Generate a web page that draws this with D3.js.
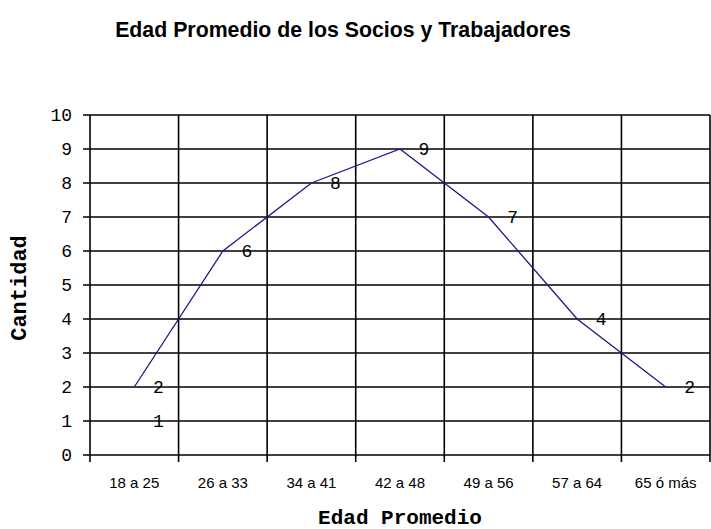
<!DOCTYPE html>
<html lang="es">
<head>
<meta charset="UTF-8">
<title>Edad Promedio</title>
<script src="https://cdn.jsdelivr.net/npm/d3@7"></script>
<style>
  body { margin: 0; background: #fff; }
</style>
</head>
<body>
<svg width="711" height="529"></svg>
<script>
// datos
var categorias = ['18 a 25', '26 a 33', '34 a 41', '42 a 48', '49 a 56', '57 a 64', '65 ó más'];
var cantidad = [2, 6, 8, 9, 7, 4, 2];
var serie2 = [1, null, null, null, null, null, null];   // solo etiqueta en la primera categoria
var yTicks = [0, 1, 2, 3, 4, 5, 6, 7, 8, 9, 10];

var svg = d3.select('svg');
// ojo: "top" ya existe en window, usar otros nombres
var mIzq = 90, mDer = 710, mSup = 115, mInf = 455;

var x = d3.scaleBand().domain(categorias).range([mIzq, mDer]);
var y = d3.scaleLinear().domain([0, 10]).range([mInf, mSup]);

var g = svg.append('g');

// lineas horizontales
g.selectAll('.hl').data(yTicks).enter().append('line')
  .attr('x1', mIzq - 7).attr('x2', mDer)
  .attr('y1', function(d){ return y(d); })
  .attr('y2', function(d){ return y(d); })
  .attr('stroke', '#000').attr('stroke-width', 1.6);

// lineas verticales (bordes de categoria)
var bordes = categorias.map(function(c){ return x(c); }).concat([mDer]);
g.selectAll('.vl').data(bordes).enter().append('line')
  .attr('x1', function(d){ return d; }).attr('x2', function(d){ return d; })
  .attr('y1', mSup).attr('y2', mInf + 7)
  .attr('stroke', '#000').attr('stroke-width', 1.6);

// etiquetas eje y
g.selectAll('.yt').data(yTicks).enter().append('text')
  .attr('x', 72).attr('y', function(d){ return y(d); })
  .attr('dy', '0.36em').attr('text-anchor', 'end')
  .style('font-family', 'Liberation Mono, monospace').style('font-size', '18px')
  .text(function(d){ return d; });

// etiquetas eje x
g.selectAll('.xt').data(categorias).enter().append('text')
  .attr('x', function(d){ return x(d) + x.bandwidth() / 2; })
  .attr('y', 488).attr('text-anchor', 'middle')
  .style('font-family', 'Liberation Sans, Arial, sans-serif').style('font-size', '15px')
  .text(function(d){ return d; });

// linea
var pts = categorias.map(function(c, i){ return {c: c, v: cantidad[i]}; });
var linea = d3.line()
  .x(function(d){ return x(d.c) + x.bandwidth() / 2; })
  .y(function(d){ return y(d.v); });
g.append('path').datum(pts).attr('d', linea)
  .attr('fill', 'none').attr('stroke', '#1a1a8c').attr('stroke-width', 1.3);

// etiquetas de datos
var etiquetas = pts.concat(categorias.map(function(c, i){ return {c: c, v: serie2[i]}; })
  .filter(function(d){ return d.v != null; }));
g.selectAll('.lb').data(etiquetas).enter().append('text')
  .attr('x', function(d){ return x(d.c) + x.bandwidth() / 2 + 24; })
  .attr('y', function(d){ return y(d.v); })
  .attr('dy', '0.36em').attr('text-anchor', 'middle')
  .style('font-family', 'Liberation Mono, monospace').style('font-size', '18px')
  .text(function(d){ return d.v; });

// titulos
svg.append('text').attr('x', 343).attr('y', 37).attr('text-anchor', 'middle')
  .style('font-family', 'Liberation Sans, Arial, sans-serif').style('font-size', '21.3px')
  .style('font-weight', 'bold')
  .text('Edad Promedio de los Socios y Trabajadores');

svg.append('text').attr('x', 400).attr('y', 524).attr('text-anchor', 'middle')
  .style('font-family', 'Liberation Mono, monospace').style('font-size', '21px')
  .style('font-weight', 'bold')
  .text('Edad Promedio');

svg.append('text').attr('transform', 'translate(26,288) rotate(-90)').attr('text-anchor', 'middle')
  .style('font-family', 'Liberation Mono, monospace').style('font-size', '22px')
  .style('font-weight', 'bold')
  .text('Cantidad');
</script>
</body>
</html>
